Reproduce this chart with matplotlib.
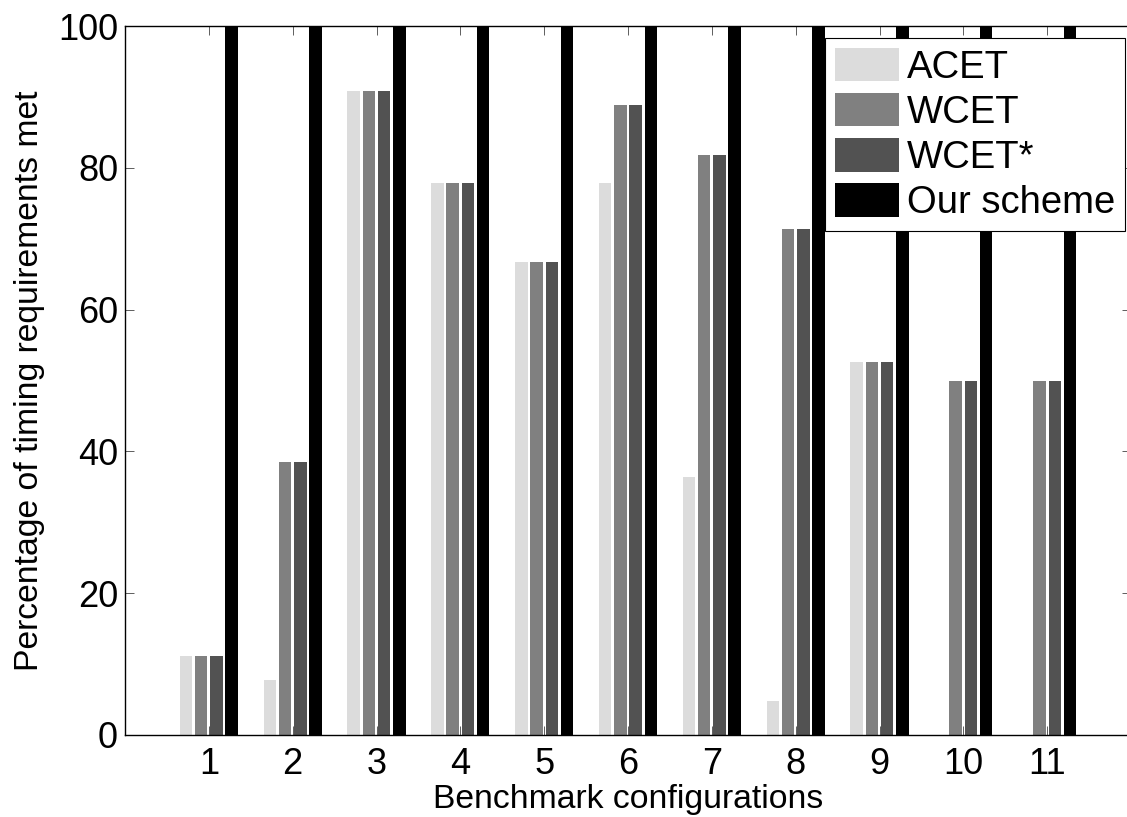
import matplotlib
matplotlib.use("Agg")
import matplotlib.pyplot as plt
import numpy as np

plt.rcParams['font.family'] = ['Liberation Sans', 'DejaVu Sans']

configs = [1, 2, 3, 4, 5, 6, 7, 8, 9, 10, 11]
series_names = ["ACET", "WCET", "WCET*", "Our scheme"]
acet = [11.1, 7.7, 90.9, 77.8, 66.7, 77.8, 36.4, 4.8, 52.6, 0, 0]
wcet = [11.1, 38.5, 90.9, 77.8, 66.7, 88.9, 81.8, 71.4, 52.6, 50.0, 50.0]
wcet_star = [11.1, 38.5, 90.9, 77.8, 66.7, 88.9, 81.8, 71.4, 52.6, 50.0, 50.0]
ours = [100, 100, 100, 100, 100, 100, 100, 100, 100, 100, 100]
colors = ["#dcdcdc", "#808080", "#525252", "#000000"]
yticks = [0, 20, 40, 60, 80, 100]

W, H = 1127, 817
fig = plt.figure(figsize=(W / 100, H / 100), dpi=100)
ax = fig.add_axes([125 / W, (H - 735) / H, (1131 - 125) / W, (735 - 26) / H])

x = np.array(configs, dtype=float)
step = (4 / 5.5) / 4
offsets = [(-1.5 + i) * step for i in range(4)]
bw = 0.15
for vals, off, col, name in zip([acet, wcet, wcet_star, ours], offsets, colors, series_names):
    ax.bar(x + off, vals, width=bw, color=col, edgecolor='none', label=name)

ax.set_xlim(0, 12)
ax.set_ylim(0, 100)
ax.set_xticks(configs)
ax.set_xticklabels([str(c) for c in configs])
ax.set_yticks(yticks)
ax.tick_params(axis='both', which='both', direction='in', length=6.5, width=0.6,
               top=True, right=True, labelsize=26, color='#444444')
ax.tick_params(axis='x', pad=9)
ax.tick_params(axis='y', pad=5)
for s in ax.spines.values():
    s.set_linewidth(1.0)
    s.set_color('black')

ax.set_xlabel("Benchmark configurations", fontsize=24.3, labelpad=1)
ax.set_ylabel("Percentage of timing requirements met", fontsize=24.3, labelpad=9)

leg = ax.legend(loc='upper right', bbox_to_anchor=(1125 / W, 1 - 38 / H),
                bbox_transform=fig.transFigure, borderaxespad=0, fontsize=27.5,
                frameon=True, fancybox=False, shadow=False, framealpha=1,
                handlelength=1.68, handleheight=0.97, handletextpad=0.2,
                labelspacing=0.19, borderpad=0.26)
leg.get_frame().set_edgecolor('black')
leg.get_frame().set_linewidth(0.8)

fig.savefig("out.png", dpi=100)
